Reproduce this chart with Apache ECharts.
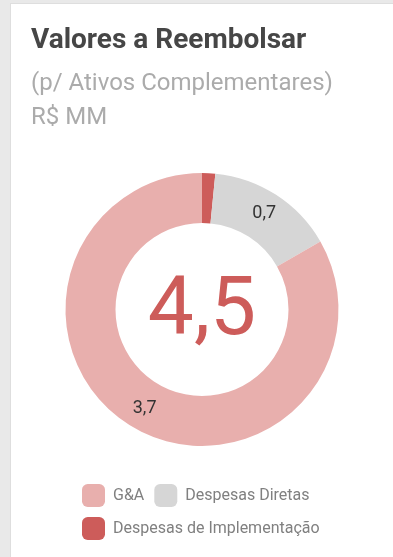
<!DOCTYPE html>
<html>
<head>
<meta charset="utf-8">
<script src="https://cdn.jsdelivr.net/npm/echarts@6/dist/echarts.min.js"></script>
<style>
  html, body { margin: 0; padding: 0; width: 393px; height: 557px; overflow: hidden; background: #e9e9e9; }
  #card { position: absolute; left: 10px; top: 3px; width: 400px; height: 570px; background: #fff; border: 1px solid #dedede; box-sizing: border-box; }
  #chart { position: absolute; left: 0; top: 0; width: 393px; height: 557px; }
</style>
</head>
<body>
<div id="card"></div>
<div id="chart"></div>
<script>
// Valores a reembolsar por tipo de despesa (R$ MM)
const categories = ['Despesas de Implementação', 'Despesas Diretas', 'G&A'];
const values = [0.07, 0.68, 3.74];
const colors = ['#cd5c5a', '#d6d6d6', '#e8afad'];
const legendOrder = ['G&A', 'Despesas Diretas', 'Despesas de Implementação'];

const fmt = v => v.toFixed(1).replace('.', ',');
const total = values.reduce((a, b) => a + b, 0);

const chart = echarts.init(document.getElementById('chart'));
chart.setOption({
  backgroundColor: 'transparent',
  textStyle: { fontFamily: 'Roboto' },
  title: [
    {
      text: 'Valores a Reembolsar',
      left: 31, top: 27, padding: 0,
      textStyle: { fontFamily: 'Roboto', fontSize: 28, fontWeight: 'bold', color: '#464646' }
    },
    {
      text: '(p/ Ativos Complementares)\nR$ MM',
      left: 31, top: 67, padding: 0,
      textStyle: { fontFamily: 'Roboto', fontSize: 24, fontWeight: 'normal', color: '#ababab', lineHeight: 34 }
    }
  ],
  legend: {
    data: legendOrder,
    left: 82, top: 484, width: 250,
    orient: 'horizontal',
    itemWidth: 23, itemHeight: 23, itemGap: 10,
    icon: 'roundRect',
    selectedMode: false,
    textStyle: { fontFamily: 'Roboto', fontSize: 16, color: '#808080', padding: [0, 0, 0, 3] },
    padding: 0
  },
  graphic: [{
    type: 'text',
    x: 202, y: 313,
    style: {
      text: fmt(total),
      fontFamily: 'Roboto', fontSize: 82, fill: '#cd5c5a',
      align: 'center', verticalAlign: 'middle'
    }
  }],
  series: [{
    type: 'pie',
    center: [202, 309.5],
    radius: [86.5, 136.5],
    startAngle: 90,
    clockwise: true,
    avoidLabelOverlap: false,
    label: {
      show: true, position: 'inside',
      formatter: p => p.value >= 0.5 ? fmt(p.value) : '',
      fontFamily: 'Roboto', fontSize: 18, color: '#333333'
    },
    labelLine: { show: false },
    emphasis: { disabled: true },
    itemStyle: { borderWidth: 0 },
    data: categories.map((c, i) => ({ name: c, value: values[i], itemStyle: { color: colors[i] } }))
  }]
});
</script>
</body>
</html>
